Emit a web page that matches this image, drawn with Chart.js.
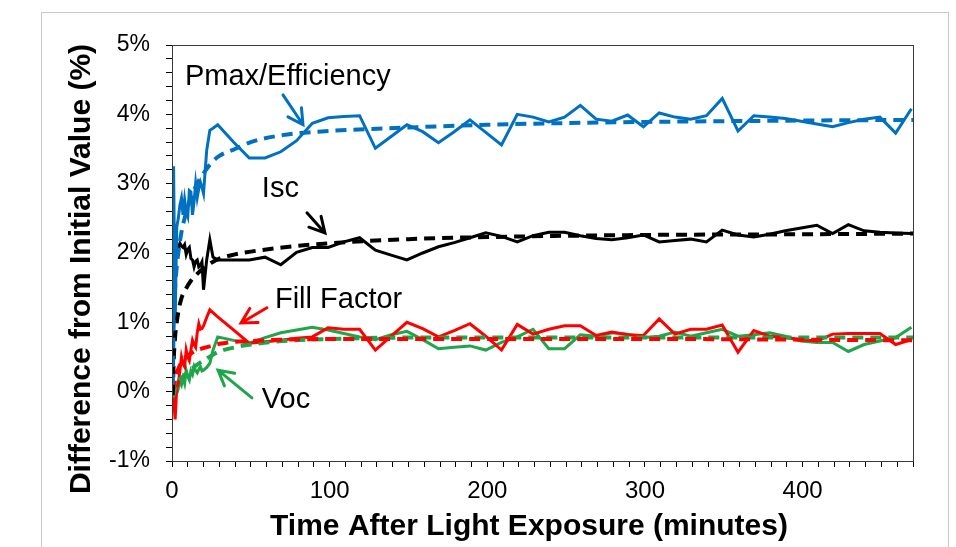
<!DOCTYPE html>
<html>
<head>
<meta charset="utf-8">
<script src="https://cdn.jsdelivr.net/npm/chart.js@4.4.1/dist/chart.umd.min.js"></script>
<style>
  html, body { margin: 0; padding: 0; background: #fff; }
  #wrap { width: 956px; height: 547px; }
</style>
</head>
<body>
<div id="wrap"><canvas id="lightSoak" width="956" height="547"></canvas></div>
<script>
// measured minutes after light exposure
const minutes = [0, 1, 2, 3, 4, 5, 6, 7, 8, 9, 10, 11, 12, 13, 14, 15, 16, 17, 18, 19, 20, 22, 24, 26, 29,
    39, 49, 59, 69, 79, 89, 99, 109, 119, 129, 139, 149, 159, 169, 179, 189, 199, 209, 219, 229,
    239, 249, 259, 269, 279, 289, 299, 309, 319, 329, 339, 349, 359, 369, 379, 389, 399, 409, 419, 429,
    439, 449, 459, 469];

const pmax = [0, 3.25, 1.0, 2.37, 2.5, 2.69, 2.79, 2.55, 2.77, 2.6, 2.53, 2.9, 2.88, 2.55, 2.74, 3.0, 2.8, 2.93, 3.02, 2.95, 2.86, 3.48, 3.77, 3.8, 3.85,
    3.6, 3.37, 3.37, 3.46, 3.62, 3.87, 3.95, 3.97, 3.98, 3.51, 3.68, 3.85, 3.75, 3.59, 3.75, 3.92, 3.74, 3.56, 4.0, 3.96,
    3.89, 3.96, 4.13, 3.93, 3.9, 3.99, 3.82, 4.02, 3.96, 3.93, 3.98, 4.23, 3.76, 3.98, 3.96, 3.94, 3.9, 3.86, 3.82, 3.88,
    3.93, 3.96, 3.73, 4.08];

const isc = [0, 1.0, 1.9, 2.12, 2.05, 2.14, 2.1, 2.08, 2.12, 1.98, 2.05, 2.08, 1.92, 1.9, 1.8, 1.88, 1.9, 1.8, 1.82, 1.87, 1.47, 1.9, 2.19, 1.94, 1.9,
    1.9, 1.9, 1.94, 1.83, 2.01, 2.08, 2.08, 2.16, 2.22, 2.04, 1.97, 1.9, 2.0, 2.09, 2.15, 2.22, 2.29, 2.24, 2.16, 2.25,
    2.3, 2.3, 2.25, 2.21, 2.19, 2.22, 2.26, 2.16, 2.18, 2.2, 2.16, 2.33, 2.26, 2.23, 2.27, 2.32, 2.36, 2.4, 2.28, 2.41,
    2.32, 2.3, 2.29, 2.28];

const fillFactor = [0, -0.1, -0.4, 0.05, 0.12, 0.3, 0.5, 0.4, 0.36, 0.6, 0.5, 0.45, 0.6, 0.74, 0.68, 0.64, 0.85, 0.98, 0.9, 0.91, 0.95, 1.07, 1.18, 1.14, 1.08,
    0.89, 0.7, 0.72, 0.74, 0.77, 0.79, 0.92, 0.9, 0.9, 0.6, 0.8, 1.0, 0.91, 0.79, 0.88, 0.98, 0.8, 0.6, 0.97, 0.83,
    0.9, 0.95, 0.95, 0.81, 0.86, 0.82, 0.81, 1.05, 0.83, 0.9, 0.9, 0.96, 0.57, 0.88, 0.8, 0.78, 0.75, 0.73, 0.83, 0.84,
    0.84, 0.84, 0.68, 0.75];

const voc = [0, -0.05, 0.08, 0.12, 0.05, 0.15, 0.1, 0.2, 0.12, 0.31, 0.22, 0.17, 0.3, 0.25, 0.36, 0.3, 0.27, 0.32, 0.36, 0.3, 0.31, 0.35, 0.41, 0.6, 0.79,
    0.74, 0.7, 0.78, 0.85, 0.89, 0.93, 0.89, 0.84, 0.79, 0.75, 0.82, 0.87, 0.75, 0.62, 0.64, 0.66, 0.6, 0.71, 0.79, 0.9,
    0.62, 0.62, 0.82, 0.8, 0.85, 0.83, 0.78, 0.8, 0.86, 0.8, 0.85, 0.9, 0.8, 0.82, 0.85, 0.8, 0.73, 0.71, 0.71, 0.58,
    0.68, 0.73, 0.78, 0.93];

// fitted curves (dashed)
const fitMinutes = [0.5, 1, 2, 3, 4, 6, 8, 12, 16, 20, 25, 30, 40, 50, 70, 100, 150, 200, 300, 400, 470];
const pmaxFit = [0.1, 0.9, 1.5, 1.8, 2.0, 2.3, 2.5, 2.8, 3.0, 3.15, 3.3, 3.4, 3.5, 3.6, 3.7, 3.76, 3.81, 3.85, 3.89, 3.91, 3.92];
const iscFit = [-0.05, 0.4, 0.8, 1.0, 1.15, 1.35, 1.45, 1.6, 1.7, 1.78, 1.86, 1.92, 1.98, 2.02, 2.08, 2.14, 2.2, 2.23, 2.26, 2.27, 2.28];
const ffFit = [0.0, 0.08, 0.2, 0.27, 0.33, 0.42, 0.48, 0.55, 0.6, 0.63, 0.66, 0.69, 0.72, 0.73, 0.75, 0.76, 0.76, 0.76, 0.76, 0.75, 0.74];
const vocFit = [-0.08, -0.05, 0.05, 0.1, 0.15, 0.2, 0.24, 0.32, 0.39, 0.45, 0.52, 0.58, 0.64, 0.68, 0.73, 0.76, 0.78, 0.78, 0.78, 0.78, 0.78];

const xTickLabels = [0, 100, 200, 300, 400];
const yTickLabels = [-1, 0, 1, 2, 3, 4, 5];

const BLUE = '#0070c0', BLACK = '#000000', RED = '#ff0000', GREEN = '#1fa54a';
const FONT = "'Liberation Sans', Arial, sans-serif";

// callouts, placed in data units
const callouts = [
    { text: 'Pmax/Efficiency', x: 8.2, y: 4.42, color: BLACK },
    { text: 'Isc', x: 57, y: 2.81, color: BLACK },
    { text: 'Fill Factor', x: 65.3, y: 1.21, color: BLACK },
    { text: 'Voc', x: 57, y: -0.24, color: BLACK }
];
const arrows = [
    { from: [70.4, 4.28], to: [83.1, 3.85], color: BLUE },
    { from: [85.6, 2.58], to: [97, 2.29], color: BLACK },
    { from: [60.2, 1.21], to: [43.8, 0.99], color: RED },
    { from: [50.7, -0.09], to: [29.2, 0.31], color: GREEN }
];

const solid = (label, values, color) => ({
    label,
    data: minutes.map((t, i) => ({ x: t, y: values[i] })),
    borderColor: color,
    borderWidth: 3,
    pointRadius: 0,
    tension: 0,
    fill: false
});
const dashed = (label, values, color) => ({
    label,
    data: fitMinutes.map((t, i) => ({ x: t, y: values[i] })),
    borderColor: color,
    borderWidth: 4,
    borderDash: [11, 7],
    pointRadius: 0,
    cubicInterpolationMode: 'monotone',
    fill: false
});

const framePlugin = {
    id: 'frame',
    beforeDraw(chart) {
        const ctx = chart.ctx;
        ctx.save();
        ctx.fillStyle = '#fff';
        ctx.fillRect(0, 0, chart.width, chart.height);
        ctx.strokeStyle = '#c8c8c8';
        ctx.lineWidth = 1;
        ctx.strokeRect(41.5, 12.5, 907, 600);
        ctx.restore();
    },
    afterDatasetsDraw(chart) {
        const { ctx, chartArea: a, scales } = chart;
        ctx.save();
        ctx.strokeStyle = '#3a3a3a';
        ctx.lineWidth = 1;
        ctx.strokeRect(Math.round(a.left) + 0.5, Math.round(a.top) + 0.5, Math.round(a.right - a.left), Math.round(a.bottom - a.top));

        // callout labels
        ctx.font = '29px ' + FONT;
        ctx.textBaseline = 'alphabetic';
        ctx.textAlign = 'left';
        callouts.forEach(c => {
            ctx.fillStyle = c.color;
            ctx.fillText(c.text, scales.x.getPixelForValue(c.x), scales.y.getPixelForValue(c.y));
        });

        // arrows
        ctx.lineWidth = 3;
        ctx.lineCap = 'round';
        arrows.forEach(ar => {
            const x0 = scales.x.getPixelForValue(ar.from[0]), y0 = scales.y.getPixelForValue(ar.from[1]);
            const x1 = scales.x.getPixelForValue(ar.to[0]), y1 = scales.y.getPixelForValue(ar.to[1]);
            const ang = Math.atan2(y1 - y0, x1 - x0);
            const head = 17, spread = 0.5;
            ctx.strokeStyle = ar.color;
            ctx.beginPath();
            ctx.moveTo(x0, y0);
            ctx.lineTo(x1, y1);
            ctx.moveTo(x1 - head * Math.cos(ang - spread), y1 - head * Math.sin(ang - spread));
            ctx.lineTo(x1, y1);
            ctx.lineTo(x1 - head * Math.cos(ang + spread), y1 - head * Math.sin(ang + spread));
            ctx.stroke();
        });

        // axis titles
        ctx.fillStyle = '#000';
        ctx.font = 'bold 30px ' + FONT;
        ctx.textAlign = 'center';
        ctx.textBaseline = 'middle';
        ctx.fillText('Time After Light Exposure (minutes)', 529, 527);
        ctx.translate(82, 269);
        ctx.rotate(-Math.PI / 2);
        ctx.font = 'bold 30px ' + FONT;
        ctx.fillText('Difference from Initial Value (%)', 0, 0);
        ctx.restore();
    }
};

new Chart(document.getElementById('lightSoak'), {
    type: 'line',
    data: {
        datasets: [
            dashed('Pmax/Efficiency fit', pmaxFit, BLUE),
            dashed('Isc fit', iscFit, BLACK),
            dashed('Fill Factor fit', ffFit, RED),
            dashed('Voc fit', vocFit, GREEN),
            solid('Pmax/Efficiency', pmax, BLUE),
            solid('Isc', isc, BLACK),
            solid('Fill Factor', fillFactor, RED),
            solid('Voc', voc, GREEN)
        ]
    },
    options: {
        responsive: false,
        devicePixelRatio: 1,
        animation: false,
        layout: { padding: { left: 0, top: 45, right: 43, bottom: 0 } },
        plugins: { legend: { display: false }, tooltip: { enabled: false } },
        scales: {
            x: {
                type: 'linear',
                min: 0,
                max: 470,
                border: { color: '#000', width: 1 },
                grid: { drawOnChartArea: false, drawTicks: true, tickLength: 6, tickColor: '#000' },
                ticks: {
                    stepSize: 10,
                    autoSkip: false,
                    maxRotation: 0,
                    padding: 10,
                    color: '#000',
                    font: { family: FONT, size: 24 },
                    callback: v => xTickLabels.includes(v) ? String(v) : ''
                },
                afterFit: s => { s.height = 86; }
            },
            y: {
                min: -1,
                max: 5,
                border: { color: '#000', width: 1 },
                grid: { drawOnChartArea: false, drawTicks: true, tickLength: 6, tickColor: '#000' },
                ticks: {
                    stepSize: 0.2,
                    autoSkip: false,
                    padding: 16,
                    color: '#000',
                    font: { family: FONT, size: 23 },
                    callback: v => {
                        const r = Math.round(v);
                        return Math.abs(v - r) < 1e-6 && yTickLabels.includes(r) ? r + '%' : '';
                    }
                },
                afterFit: s => { s.width = 172; }
            }
        }
    },
    plugins: [framePlugin]
});
</script>
</body>
</html>
